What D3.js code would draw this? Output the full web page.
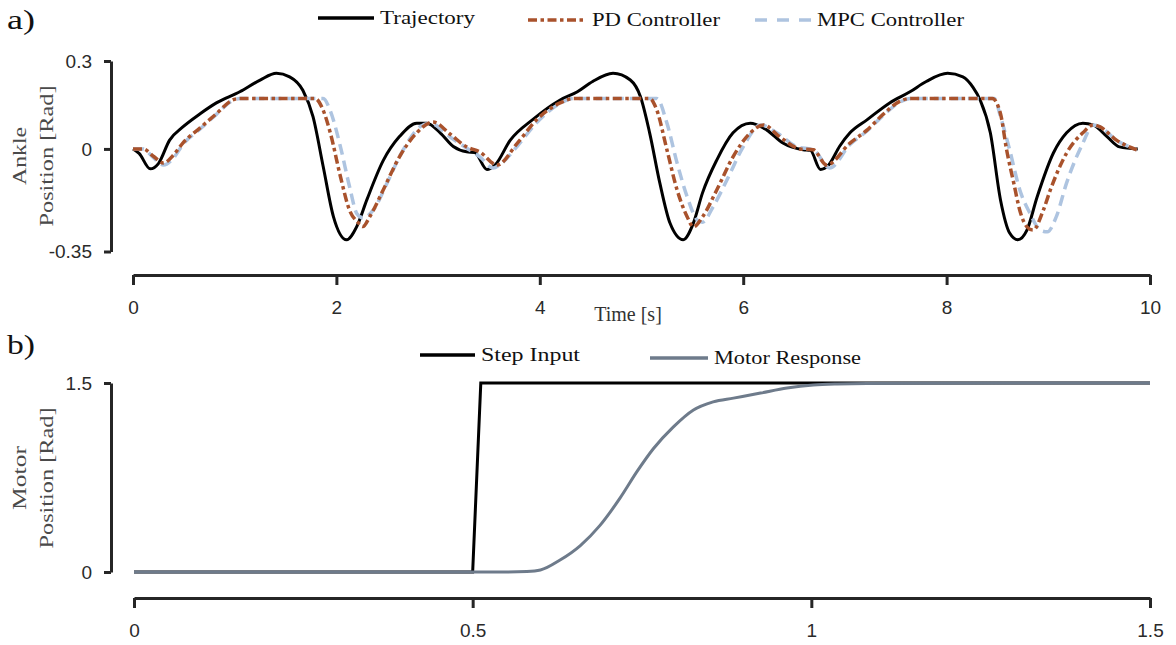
<!DOCTYPE html>
<html><head><meta charset="utf-8">
<script src="https://cdn.jsdelivr.net/npm/d3@7"></script>
<style>
body{margin:0;background:#fff;}
svg{display:block;}
</style></head>
<body>
<svg id="c" width="1176" height="645"></svg>
<script>
// ---------- Data ----------
const trajectory = [
[0.00,0.000],[0.06,-0.015],[0.17,-0.068],[0.25,-0.050],[0.36,0.030],[0.49,0.075],[0.66,0.120],[0.82,0.157],
[1.05,0.195],[1.25,0.235],[1.41,0.258],[1.54,0.246],[1.67,0.200],[1.77,0.110],[1.87,-0.060],[1.97,-0.230],
[2.10,-0.310],[2.20,-0.265],[2.30,-0.173],[2.46,-0.040],[2.62,0.042],[2.79,0.088],[2.89,0.088],[3.02,0.055],
[3.15,0.008],[3.28,-0.010],[3.36,-0.012],[3.48,-0.070],[3.56,-0.055],[3.71,0.030],[3.93,0.100],[4.20,0.167],
[4.37,0.195],[4.52,0.230],[4.72,0.258],[4.89,0.235],[4.99,0.178],[5.08,0.055],[5.18,-0.116],[5.28,-0.253],
[5.41,-0.310],[5.51,-0.253],[5.60,-0.150],[5.74,-0.038],[5.90,0.055],[6.07,0.088],[6.23,0.065],[6.39,0.020],
[6.59,-0.003],[6.66,-0.005],[6.76,-0.070],[6.84,-0.055],[6.95,0.010],[7.05,0.055],[7.22,0.100],[7.44,0.157],
[7.64,0.195],[7.80,0.230],[8.01,0.258],[8.16,0.246],[8.26,0.210],[8.33,0.167],[8.43,0.055],[8.53,-0.174],
[8.62,-0.287],[8.70,-0.310],[8.79,-0.277],[8.89,-0.164],[9.05,-0.014],[9.18,0.055],[9.34,0.088],[9.44,0.082],
[9.58,0.041],[9.70,0.007],[9.88,0.000]
];
const pdController = [
[0.00,0.000],[0.10,0.000],[0.20,-0.025],[0.30,-0.048],[0.40,-0.020],[0.49,0.020],[0.66,0.072],[0.82,0.120],
[0.98,0.167],[1.05,0.172],[1.79,0.172],[1.86,0.140],[1.94,0.055],[2.04,-0.095],[2.13,-0.210],[2.21,-0.250],
[2.26,-0.265],[2.33,-0.230],[2.46,-0.140],[2.62,-0.027],[2.79,0.055],[2.95,0.092],[3.12,0.050],[3.28,0.007],
[3.41,-0.010],[3.58,-0.055],[3.78,0.020],[3.97,0.100],[4.20,0.157],[4.33,0.172],[5.08,0.172],[5.15,0.133],
[5.25,-0.003],[5.35,-0.140],[5.45,-0.232],[5.51,-0.266],[5.60,-0.232],[5.74,-0.140],[5.90,-0.027],[6.07,0.055],
[6.20,0.082],[6.36,0.041],[6.56,0.000],[6.69,-0.003],[6.82,-0.055],[7.05,0.020],[7.22,0.065],[7.37,0.116],
[7.57,0.167],[7.64,0.172],[8.45,0.172],[8.53,0.120],[8.59,-0.003],[8.66,-0.116],[8.72,-0.210],[8.79,-0.266],
[8.85,-0.277],[8.95,-0.210],[9.02,-0.140],[9.18,-0.014],[9.34,0.055],[9.44,0.082],[9.51,0.075],[9.67,0.030],
[9.87,-0.003]
];
const mpcController = [
[0.00,0.000],[0.10,0.000],[0.20,-0.030],[0.30,-0.055],[0.40,-0.030],[0.49,0.015],[0.66,0.068],[0.82,0.118],
[0.98,0.165],[1.05,0.172],[1.87,0.172],[1.94,0.130],[2.04,0.007],[2.13,-0.130],[2.20,-0.220],[2.26,-0.235],
[2.36,-0.210],[2.50,-0.115],[2.62,-0.027],[2.82,0.075],[2.92,0.088],[3.12,0.040],[3.28,0.003],[3.41,-0.027],
[3.54,-0.065],[3.62,-0.050],[3.78,0.010],[3.97,0.090],[4.20,0.155],[4.33,0.172],[5.15,0.172],[5.25,0.088],
[5.35,-0.048],[5.45,-0.164],[5.55,-0.243],[5.60,-0.250],[5.70,-0.200],[5.84,-0.106],[6.00,0.007],[6.17,0.082],
[6.33,0.055],[6.53,0.007],[6.69,-0.003],[6.85,-0.065],[7.05,0.015],[7.22,0.062],[7.37,0.112],[7.57,0.165],
[7.64,0.172],[8.47,0.172],[8.53,0.110],[8.62,-0.003],[8.72,-0.140],[8.82,-0.220],[8.92,-0.277],[8.99,-0.283],
[9.08,-0.230],[9.18,-0.116],[9.34,0.020],[9.44,0.082],[9.51,0.075],[9.67,0.030],[9.87,-0.003]
];
const stepInput = [[0,0],[0.5,0],[0.512,1.5],[1.5,1.5]];
const motorResponse = [
[0,0],[0.3,0],[0.55,0],[0.58,0.004],[0.60,0.016],[0.629,0.095],[0.659,0.21],[0.688,0.37],[0.718,0.59],[0.743,0.80],
[0.767,0.98],[0.796,1.15],[0.826,1.286],[0.855,1.35],[0.885,1.38],[0.925,1.42],[0.964,1.46],[1.003,1.484],
[1.038,1.492],[1.13,1.499],[1.3,1.5],[1.5,1.5]
];
const topXTicks = [0,2,4,6,8,10];
const topYTicks = [-0.35,0,0.3];
const topYTickLabels = ["-0.35","0","0.3"];
const botXTicks = [0,0.5,1,1.5];
const botXTickLabels = ["0","0.5","1","1.5"];
const botYTicks = [0,1.5];
const botYTickLabels = ["0","1.5"];
const topLegend = ["Trajectory","PD Controller","MPC Controller"];
const botLegend = ["Step Input","Motor Response"];

// ---------- Drawing ----------
const svg = d3.select("#c");
const serif = "'Liberation Serif','Times New Roman',serif";
const sans = "'Liberation Sans',Arial,sans-serif";
const axisColor = "#262626";

const x1 = d3.scaleLinear([0,10],[133,1150]);
const y1 = d3.scaleLinear([-0.35,0.3],[251.5,61]);
const x2 = d3.scaleLinear([0,1.5],[134,1150]);
const y2 = d3.scaleLinear([0,1.5],[572,383]);

function styleAxis(g){
  g.select(".domain").attr("stroke",axisColor).attr("stroke-width",3);
  g.selectAll(".tick line").attr("stroke",axisColor).attr("stroke-width",3);
  g.selectAll(".tick text").attr("fill","#2a2a2a").style("font-family",sans).style("font-size","19px");
}

// top axes
svg.append("g").attr("transform","translate(111,0)")
  .call(d3.axisLeft(y1).tickValues(topYTicks).tickSize(7).tickSizeOuter(0).tickPadding(12)
    .tickFormat((d,i)=>topYTickLabels[i]))
  .call(styleAxis);
svg.append("g").attr("transform","translate(0,275)")
  .call(d3.axisBottom(x1).tickValues(topXTicks).tickSize(10).tickSizeOuter(0).tickPadding(16))
  .call(styleAxis);

// bottom axes
svg.append("g").attr("transform","translate(111,0)")
  .call(d3.axisLeft(y2).tickValues(botYTicks).tickSize(7).tickSizeOuter(0).tickPadding(12)
    .tickFormat((d,i)=>botYTickLabels[i]))
  .call(styleAxis);
svg.append("g").attr("transform","translate(0,598)")
  .call(d3.axisBottom(x2).tickValues(botXTicks).tickSize(10).tickSizeOuter(0).tickPadding(16)
    .tickFormat((d,i)=>botXTickLabels[i]))
  .call(styleAxis);

// lines top
const line1 = d3.line().x(d=>x1(d[0])).y(d=>y1(d[1])).curve(d3.curveMonotoneX);
svg.append("path").datum(trajectory).attr("d",line1).attr("fill","none")
  .attr("stroke","#000").attr("stroke-width",3).attr("stroke-linejoin","round");
svg.append("path").datum(mpcController).attr("d",line1).attr("fill","none")
  .attr("stroke","#aec4e0").attr("stroke-width",3.5).attr("stroke-dasharray","11,6");
svg.append("path").datum(pdController).attr("d",line1).attr("fill","none")
  .attr("stroke","#a9522c").attr("stroke-width",3.5).attr("stroke-dasharray","9,3.5,3.5,3.5");

// lines bottom
const line2 = d3.line().x(d=>x2(d[0])).y(d=>y2(d[1]));
svg.append("path").datum(stepInput).attr("d",line2).attr("fill","none")
  .attr("stroke","#000").attr("stroke-width",3);
const line2s = d3.line().x(d=>x2(d[0])).y(d=>y2(d[1])).curve(d3.curveMonotoneX);
svg.append("path").datum(motorResponse).attr("d",line2s).attr("fill","none")
  .attr("stroke","#6e7b8b").attr("stroke-width",3);

// stretched serif text (mimics Computer Modern widths)
function stext(sel, x, y, label, size, len, anchor){
  const t = sel.append("text").attr("x",x).attr("y",y).text(label)
    .attr("text-anchor",anchor||"start")
    .style("font-family",serif).style("font-size",size+"px");
  if (len) t.attr("textLength",len).attr("lengthAdjust","spacingAndGlyphs");
  return t;
}

// legends
function legendItem(x1p,x2p,y,color,dash,label,len){
  svg.append("line").attr("x1",x1p).attr("x2",x2p).attr("y1",y).attr("y2",y)
    .attr("stroke",color).attr("stroke-width",3.5).attr("stroke-dasharray",dash);
  stext(svg, x2p+6, y+6, label, 18, len).attr("fill","#111");
}
legendItem(318,374,18,"#000",null,topLegend[0],95);
legendItem(528,586,20,"#a9522c","9,3.5,3.5,3.5",topLegend[1],128);
legendItem(755,811,20,"#aec4e0","12,10",topLegend[2],147);
legendItem(420,475,355,"#000",null,botLegend[0],99);
legendItem(650,708,358,"#6e7b8b",null,botLegend[1],147);

// titles and labels
stext(svg,7,29,"a)",27,28).attr("fill","#111");
stext(svg,7,354,"b)",27,28).attr("fill","#111");
stext(svg,628,321,"Time [s]",20,null,"middle").attr("fill","#333");

function ylabel(cy, l1, len1, l2, len2){
  const g = svg.append("g").attr("transform",`translate(0,${cy}) rotate(-90)`);
  stext(g,0,26,l1,19,len1,"middle").attr("fill","#4a4a4a");
  stext(g,0,53,l2,19,len2,"middle").attr("fill","#4a4a4a");
}
ylabel(156,"Ankle",58,"Position [Rad]",141);
ylabel(478,"Motor",64,"Position [Rad]",141);
</script>
</body></html>
